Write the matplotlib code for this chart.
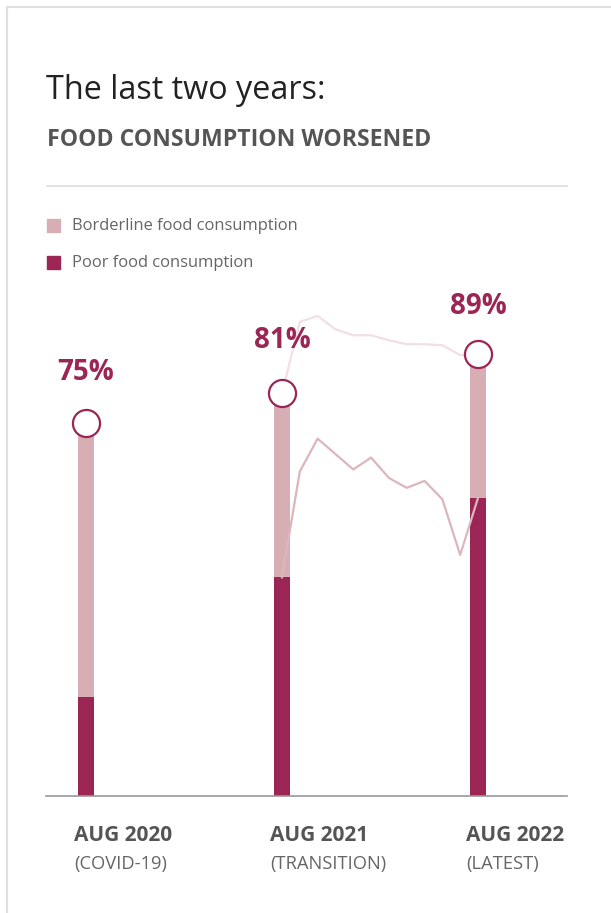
import matplotlib.pyplot as plt
import numpy as np

# food consumption survey rounds
periods = ["AUG 2020", "AUG 2021", "AUG 2022"]
period_notes = ["(COVID-19)", "(TRANSITION)", "(LATEST)"]
poor = [20, 44, 60]
total = [75, 81, 89]

# monthly readings between Aug 2021 and Aug 2022
monthly_total = [81, 95.4, 96.6, 93.9, 92.7, 92.7, 91.7, 90.9, 90.9, 90.7, 88.7, 89]
monthly_poor = [44, 65.3, 71.9, 68.8, 65.7, 68.1, 64.0, 62.0, 63.4, 59.7, 48.5, 60]

DARK = "#9b2655"
LIGHT = "#d8aeb5"
LINE_POOR = "#dcb6bd"
LINE_TOTAL = "#f1dfe3"

plt.rcParams['font.family'] = ['Open Sans', 'DejaVu Sans']

W, H = 611, 913
fig = plt.figure(figsize=(W / 100, H / 100), dpi=100)


def fx(px):
    return px / W


def fy(py):
    return 1 - py / H


# card outline
fig.add_artist(plt.Line2D([fx(7), fx(7)], [fy(7), 0], color="#e0e0e0", lw=1.5))
fig.add_artist(plt.Line2D([fx(7), 1], [fy(7.5), fy(7.5)], color="#e0e0e0", lw=1.5))

fig.text(fx(46), fy(99), "The last two years:", fontsize=23.3, color="#222222",
         va="baseline", ha="left")
fig.text(fx(47), fy(146.5), "FOOD CONSUMPTION WORSENED", fontsize=16.6, color="#555555",
         fontweight="bold", va="baseline", ha="left")
fig.add_artist(plt.Line2D([fx(47), fx(567)], [fy(186), fy(186)], color="#dddddd", lw=1.2))

# legend
for y_px, col, lab in [(225.5, LIGHT, "Borderline food consumption"),
                       (263, DARK, "Poor food consumption")]:
    fig.add_artist(plt.Rectangle((fx(47), fy(y_px + 6.5)), fx(13), 13 / H,
                                 color=col, transform=fig.transFigure))
    fig.text(fx(72), fy(y_px), lab, fontsize=11.9, color="#666666", va="center", ha="left")

# chart area: baseline at 796px, 4.97px per percentage point
base_px = 796
top_px = base_px - 100 * 4.97
ax = fig.add_axes([fx(46), fy(base_px), fx(567) - fx(46), (base_px - top_px) / H])
x = np.arange(len(periods))
ax.set_xlim(-0.204, 2.454)
ax.set_ylim(0, 100)

borderline = [t - p for t, p in zip(total, poor)]
ax.bar(x, poor, width=0.082, color=DARK, zorder=2)
ax.bar(x, borderline, bottom=poor, width=0.082, color=LIGHT, zorder=2)

mx = np.linspace(x[1], x[2], len(monthly_total))
ax.plot(mx, monthly_total, color=LINE_TOTAL, lw=1.6, zorder=3)
ax.plot(mx, monthly_poor, color=LINE_POOR, lw=1.6, zorder=3)

ax.plot(x, total, "o", ms=19.5, mfc="white", mec=DARK, mew=1.6, zorder=4, clip_on=False)

label_offsets = [31, 33, 28.5]
for xi, t, off in zip(x, total, label_offsets):
    ax.annotate(f"{t}%", (xi, t), xytext=(0, off), textcoords="offset points",
                ha="center", va="baseline", fontsize=20, fontweight="bold", color=DARK)

for spine in ["top", "right", "left"]:
    ax.spines[spine].set_visible(False)
ax.spines["bottom"].set_color("#999999")
ax.spines["bottom"].set_linewidth(1.2)
ax.set_xticks([])
ax.set_yticks([])
ax.patch.set_alpha(0)

for xi, per, note in zip(x, periods, period_notes):
    px = 86 + xi * 196 - 12
    fig.text(fx(px), fy(840.5), per, fontsize=15, fontweight="bold", color="#555555",
             va="baseline", ha="left")
    fig.text(fx(px), fy(869), note, fontsize=13.2, color="#666666", va="baseline", ha="left")

fig.savefig("out.png", dpi=100)
